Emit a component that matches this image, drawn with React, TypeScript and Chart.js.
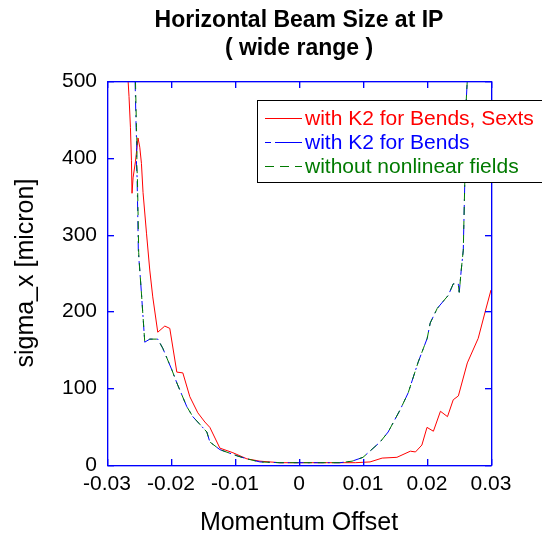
import { useEffect, useRef } from 'react';
import { Chart, registerables } from 'chart.js';
Chart.register(...registerables);

const titleLines = ['Horizontal Beam Size at IP', '( wide range )'];
const xAxisTitle = 'Momentum Offset';
const yAxisTitle = 'sigma_x [micron]';
const seriesNames = ['with K2 for Bends, Sexts', 'with K2 for Bends', 'without nonlinear fields'];
const seriesColors = ['#ff0000', '#0000ff', '#007a00'];

const xRed = [-0.0267, -0.02656, -0.02634, -0.02618, -0.02609, -0.02593, -0.02556, -0.02515, -0.02488, -0.02462, -0.02437, -0.02383, -0.02332, -0.02285, -0.02207, -0.02097, -0.02019, -0.01909, -0.01815, -0.01706, -0.01581, -0.01471, -0.01393, -0.01236, -0.01033, -0.00814, -0.0061, -0.003, 0, 0.0033, 0.0064, 0.0088, 0.0111, 0.013, 0.0153, 0.0174, 0.0182, 0.0192, 0.02, 0.021, 0.0221, 0.0232, 0.0241, 0.0249, 0.0263, 0.028, 0.0291, 0.03];
const yRed = [500, 480, 440, 397, 354, 374, 395, 426, 414, 393, 355, 302, 254, 219, 173, 181, 178, 121, 120, 89, 68, 56, 49, 22, 16, 8, 5, 3, 3, 3, 3, 3, 4, 9, 10, 18, 17, 26, 49, 44, 70, 63, 85, 90, 133, 165, 200, 228];

const xBlue = [-0.02561, -0.02545, -0.02535, -0.0254, -0.0253, -0.0252, -0.0251, -0.02488, -0.02462, -0.02437, -0.0241, -0.02332, -0.02207, -0.02128, -0.01987, -0.01909, -0.01753, -0.01659, -0.0144, -0.01393, -0.01236, -0.0097, -0.00814, -0.0061, -0.003, 0, 0.0033, 0.0064, 0.0083, 0.01, 0.01268, 0.01393, 0.01581, 0.01706, 0.01862, 0.02003, 0.0205, 0.0216, 0.02332, 0.0241, 0.02488, 0.02504, 0.02535, 0.02567, 0.02598, 0.02613, 0.02629];
const yBlue = [500, 440, 414, 392, 375, 330, 277, 254, 224, 193, 160, 164, 164, 152, 124, 107, 76, 63, 43, 30, 20, 12, 8, 4, 3, 3, 3, 3, 5, 10, 30, 43, 72, 94, 134, 165, 185, 204, 221, 236, 236, 225, 254, 280, 397, 475, 500];

const xGreen = [-0.02555, -0.0254, -0.0253, -0.02535, -0.02525, -0.02515, -0.02505, -0.02488, -0.02462, -0.02437, -0.0241, -0.02332, -0.02207, -0.02128, -0.01987, -0.01909, -0.01753, -0.01659, -0.0144, -0.01393, -0.01236, -0.0097, -0.00814, -0.0061, -0.003, 0, 0.0033, 0.0064, 0.0083, 0.01, 0.01268, 0.01393, 0.01581, 0.01706, 0.01862, 0.02003, 0.0205, 0.0216, 0.02332, 0.0241, 0.02488, 0.02504, 0.02535, 0.02567, 0.02598, 0.02613, 0.02629];
const yGreen = [500, 440, 414, 392, 375, 330, 277, 254, 224, 193, 160, 164, 164, 152, 124, 107, 76, 63, 43, 30, 20, 12, 8, 4, 3, 3, 3, 3, 5, 10, 30, 43, 72, 94, 134, 165, 185, 204, 221, 236, 236, 225, 254, 280, 397, 475, 500];

const xTicks = [-0.03, -0.02, -0.01, 0, 0.01, 0.02, 0.03];
const yTicks = [0, 100, 200, 300, 400, 500];

const FONT = "'Liberation Sans', Arial, sans-serif";
const AXIS_COLOR = '#0000ff';
const AXIS_HALO = 'rgba(0, 0, 255, 0.35)';

const toPoints = (xs: number[], ys: number[]) => xs.map((x, i) => ({ x, y: ys[i] }));

const boxPlugin = {
  id: 'matlabBox',
  afterDraw(chart: any) {
    const { ctx, chartArea, scales } = chart;
    const left = Math.round(chartArea.left);
    const right = Math.round(chartArea.right);
    const top = Math.round(chartArea.top);
    const bottom = Math.round(chartArea.bottom);
    ctx.save();
    ctx.setLineDash([]);
    ctx.globalAlpha = 1;
    const hline = (x0: number, x1: number, y: number) => {
      ctx.fillStyle = AXIS_HALO;
      ctx.fillRect(x0, y + 1, x1 - x0 + 1, 1);
      ctx.fillStyle = AXIS_COLOR;
      ctx.fillRect(x0, y, x1 - x0 + 1, 1);
    };
    const vline = (x: number, y0: number, y1: number) => {
      ctx.fillStyle = AXIS_HALO;
      ctx.fillRect(x + 1, y0, 1, y1 - y0 + 1);
      ctx.fillStyle = AXIS_COLOR;
      ctx.fillRect(x, y0, 1, y1 - y0 + 1);
    };
    hline(left, right, top);
    hline(left, right, bottom);
    vline(left, top, bottom);
    vline(right, top, bottom);
    const tl = 6;
    xTicks.forEach((v) => {
      const px = Math.round(scales.x.getPixelForValue(v));
      vline(px, bottom - tl, bottom - 1);
      vline(px, top + 1, top + tl);
    });
    yTicks.forEach((v) => {
      const py = Math.round(scales.y.getPixelForValue(v));
      hline(left + 1, left + tl, py);
      hline(right - tl, right - 1, py);
    });

    // legend
    const lx = 257, ly = 100, lw = 300, lh = 82;
    ctx.fillStyle = '#ffffff';
    ctx.fillRect(lx, ly, lw, lh);
    ctx.fillStyle = '#000000';
    ctx.fillRect(lx, ly, lw, 1);
    ctx.fillRect(lx, ly + lh, lw, 1);
    ctx.fillRect(lx, ly, 1, lh + 1);
    const dashes = [[], [6, 4, 27, 0], [9, 6]];
    const rows = [118, 142, 166];
    ctx.font = `21px ${FONT}`;
    ctx.textBaseline = 'middle';
    ctx.lineWidth = 1;
    seriesNames.forEach((name, i) => {
      ctx.strokeStyle = seriesColors[i];
      ctx.setLineDash(dashes[i]);
      ctx.beginPath();
      ctx.moveTo(265, rows[i] + 0.5);
      ctx.lineTo(302, rows[i] + 0.5);
      ctx.stroke();
      ctx.setLineDash([]);
      ctx.fillStyle = seriesColors[i];
      ctx.fillText(name, 305, rows[i] + 1);
    });
    ctx.restore();
  },
};

export default function App() {
  const ref = useRef<HTMLCanvasElement | null>(null);
  useEffect(() => {
    if (!ref.current) return;
    const chart = new Chart(ref.current, {
      type: 'line',
      data: {
        datasets: [
          { label: seriesNames[0], data: toPoints(xRed, yRed), borderColor: seriesColors[0], borderWidth: 1, pointRadius: 0, order: 3 },
          { label: seriesNames[1], data: toPoints(xBlue, yBlue), borderColor: seriesColors[1], borderWidth: 1, pointRadius: 0, borderDash: [10, 4, 2, 4], order: 2 },
          { label: seriesNames[2], data: toPoints(xGreen, yGreen), borderColor: seriesColors[2], borderWidth: 1, pointRadius: 0, borderDash: [8, 6], order: 1 },
        ],
      },
      options: {
        responsive: false,
        animation: false,
        layout: { padding: { left: 0, right: 51, top: 0, bottom: 0 } },
        plugins: {
          legend: { display: false },
          tooltip: { enabled: false },
          title: {
            display: true,
            text: titleLines,
            fullSize: false,
            color: '#000000',
            font: { family: FONT, size: 23, weight: 'bold', lineHeight: 1.2 },
            padding: { top: 7, bottom: 19 },
          },
        },
        scales: {
          x: {
            type: 'linear',
            min: -0.03,
            max: 0.03,
            afterBuildTicks: (s: any) => { s.ticks = xTicks.map((v) => ({ value: v })); },
            afterFit: (s: any) => { s.height = 75; },
            grid: { display: false, drawTicks: false },
            border: { display: false },
            ticks: {
              color: '#000000',
              font: { family: FONT, size: 21 },
              padding: 7,
              maxRotation: 0,
              autoSkip: false,
              callback: (v: any) => String(Math.round(Number(v) * 100) / 100),
            },
            title: { display: true, text: xAxisTitle, color: '#000000', font: { family: FONT, size: 25 }, padding: { top: 0, bottom: 2 } },
          },
          y: {
            type: 'linear',
            min: 0,
            max: 500,
            afterBuildTicks: (s: any) => { s.ticks = yTicks.map((v) => ({ value: v })); },
            afterFit: (s: any) => { s.width = 107; },
            grid: { display: false, drawTicks: false },
            border: { display: false },
            ticks: { color: '#000000', font: { family: FONT, size: 21 }, padding: 10, autoSkip: false },
            title: { display: true, text: yAxisTitle, color: '#000000', font: { family: FONT, size: 25 }, padding: { top: 11, bottom: 0 } },
          },
        },
      },
      plugins: [boxPlugin],
    });
    return () => chart.destroy();
  }, []);
  return (
    <div style={{ position: 'fixed', left: 0, top: 0, width: 542, height: 540, background: '#ffffff' }}>
      <canvas ref={ref} width={542} height={540} style={{ display: 'block' }} />
    </div>
  );
}
